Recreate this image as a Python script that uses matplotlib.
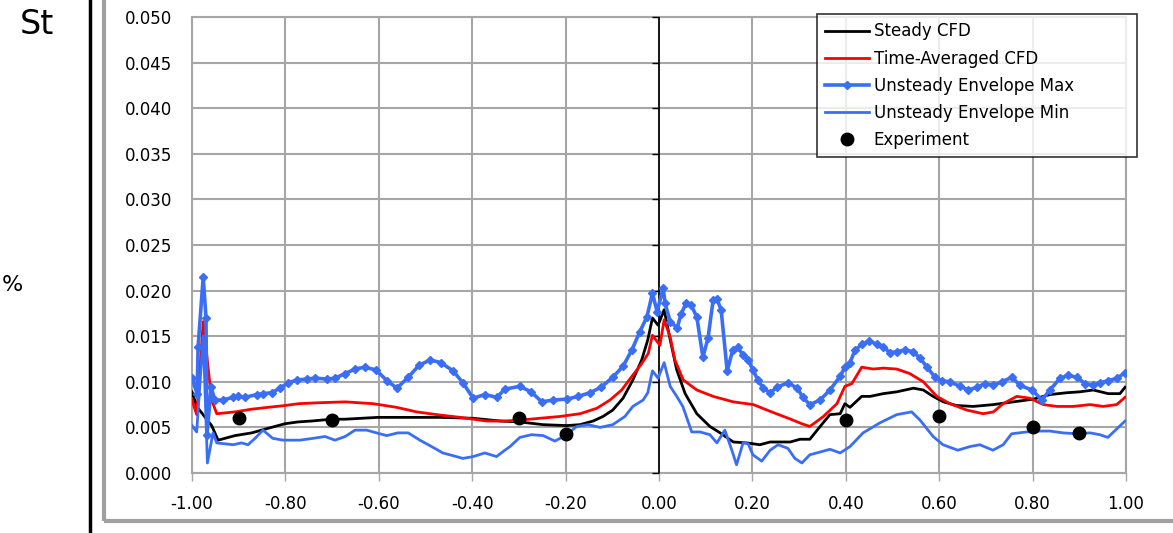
import matplotlib
matplotlib.use('Agg')
import matplotlib.pyplot as plt
from matplotlib.patches import Rectangle
from matplotlib.lines import Line2D
from matplotlib.markers import TICKLEFT

# ---- data ----
steady_x = [-1.0, -0.99, -0.958, -0.944, -0.908, -0.872, -0.837, -0.801, -0.773, -0.744, -0.701, -0.672,
            -0.602, -0.540, -0.469, -0.398, -0.340, -0.298, -0.248, -0.198, -0.169, -0.141, -0.120, -0.099,
            -0.077, -0.056, -0.037, -0.024, -0.014, -0.002, 0.011, 0.024, 0.038, 0.056, 0.081, 0.109,
            0.131, 0.159, 0.188, 0.216, 0.238, 0.259, 0.281, 0.302, 0.323, 0.345, 0.366, 0.388, 0.398,
            0.409, 0.434, 0.452, 0.480, 0.509, 0.545, 0.566, 0.587, 0.609, 0.637, 0.673, 0.716, 0.759,
            0.802, 0.837, 0.873, 0.901, 0.930, 0.962, 0.987, 0.998]
steady_y = [0.0089, 0.0073, 0.0052, 0.0036, 0.0041, 0.0044, 0.0049, 0.0054, 0.0056, 0.0057, 0.0059, 0.0059,
            0.0061, 0.0061, 0.0061, 0.0060, 0.0057, 0.0056, 0.0053, 0.0052, 0.0053, 0.0057, 0.0062, 0.0069,
            0.0082, 0.0102, 0.0124, 0.0146, 0.0170, 0.0162, 0.0179, 0.0146, 0.0113, 0.0087, 0.0065, 0.0051,
            0.0044, 0.0034, 0.0033, 0.0031, 0.0034, 0.0034, 0.0034, 0.0037, 0.0037, 0.0051, 0.0064, 0.0065, 0.0076,
            0.0072, 0.0084, 0.0084, 0.0087, 0.0089, 0.0093, 0.0091, 0.0084, 0.0078, 0.0074, 0.0073, 0.0075, 0.0078,
            0.0081, 0.0086, 0.0088, 0.0089, 0.0091, 0.0087, 0.0087, 0.0094]

avg_x = [-1.0, -0.99, -0.976, -0.958, -0.947, -0.908, -0.872, -0.837, -0.801, -0.772, -0.730, -0.672,
         -0.612, -0.562, -0.519, -0.476, -0.426, -0.369, -0.330, -0.298, -0.255, -0.212, -0.169, -0.133,
         -0.105, -0.080, -0.058, -0.037, -0.023, -0.014, 0.002, 0.011, 0.024, 0.034, 0.052, 0.081,
         0.116, 0.159, 0.202, 0.241, 0.277, 0.306, 0.323, 0.352, 0.381, 0.398, 0.413, 0.434, 0.459,
         0.480, 0.509, 0.537, 0.566, 0.595, 0.623, 0.659, 0.694, 0.716, 0.737, 0.766, 0.794, 0.823,
         0.852, 0.887, 0.923, 0.951, 0.980, 0.998]
avg_y = [0.0080, 0.0064, 0.0166, 0.0080, 0.0065, 0.0067, 0.0070, 0.0072, 0.0074, 0.0076, 0.0077, 0.0078,
         0.0076, 0.0072, 0.0067, 0.0064, 0.0061, 0.0057, 0.0057, 0.0058, 0.0060, 0.0062, 0.0065, 0.0071,
         0.0080, 0.0091, 0.0106, 0.0120, 0.0131, 0.0151, 0.0140, 0.0168, 0.0149, 0.0124, 0.0102, 0.0091,
         0.0084, 0.0078, 0.0075, 0.0067, 0.0060, 0.0054, 0.0051, 0.0062, 0.0076, 0.0095, 0.0098, 0.0116, 0.0114,
         0.0115, 0.0114, 0.0109, 0.0100, 0.0084, 0.0076, 0.0069, 0.0065, 0.0067, 0.0076, 0.0084, 0.0082, 0.0075,
         0.0073, 0.0073, 0.0075, 0.0073, 0.0075, 0.0083]

max_x = [-1.0, -0.989, -0.987, -0.976, -0.970, -0.968, -0.959, -0.951, -0.934, -0.912, -0.902, -0.887,
         -0.861, -0.848, -0.829, -0.812, -0.794, -0.775, -0.754, -0.737, -0.711, -0.694, -0.672, -0.651,
         -0.630, -0.606, -0.582, -0.561, -0.537, -0.514, -0.490, -0.467, -0.441, -0.420, -0.398, -0.373,
         -0.347, -0.330, -0.298, -0.274, -0.251, -0.227, -0.197, -0.173, -0.148, -0.124, -0.099, -0.077,
         -0.058, -0.041, -0.026, -0.014, -0.004, 0.009, 0.013, 0.024, 0.039, 0.047, 0.058, 0.069,
         0.081, 0.094, 0.105, 0.116, 0.124, 0.133, 0.146, 0.158, 0.169, 0.180, 0.191, 0.201,
         0.212, 0.223, 0.238, 0.253, 0.276, 0.296, 0.308, 0.323, 0.345, 0.366, 0.388, 0.398,
         0.409, 0.420, 0.435, 0.450, 0.467, 0.480, 0.495, 0.510, 0.527, 0.544, 0.559, 0.574,
         0.591, 0.606, 0.623, 0.645, 0.662, 0.681, 0.698, 0.715, 0.734, 0.756, 0.773, 0.799,
         0.820, 0.837, 0.859, 0.876, 0.895, 0.912, 0.929, 0.944, 0.961, 0.981, 0.998]
max_y = [0.0104, 0.0087, 0.0138, 0.0215, 0.0170, 0.0042, 0.0094, 0.0080, 0.0080, 0.0083, 0.0084, 0.0083,
         0.0086, 0.0087, 0.0088, 0.0093, 0.0099, 0.0102, 0.0103, 0.0104, 0.0103, 0.0104, 0.0109, 0.0114,
         0.0116, 0.0113, 0.0101, 0.0093, 0.0105, 0.0118, 0.0124, 0.0121, 0.0112, 0.0099, 0.0082, 0.0086,
         0.0083, 0.0092, 0.0095, 0.0089, 0.0078, 0.0080, 0.0081, 0.0084, 0.0088, 0.0094, 0.0105, 0.0117,
         0.0135, 0.0155, 0.0171, 0.0197, 0.0177, 0.0203, 0.0186, 0.0166, 0.0159, 0.0174, 0.0186, 0.0184,
         0.0171, 0.0127, 0.0148, 0.0190, 0.0191, 0.0179, 0.0112, 0.0135, 0.0138, 0.0129, 0.0124, 0.0113,
         0.0102, 0.0093, 0.0088, 0.0094, 0.0099, 0.0093, 0.0083, 0.0075, 0.0080, 0.0091, 0.0106, 0.0116,
         0.0121, 0.0135, 0.0141, 0.0145, 0.0141, 0.0138, 0.0132, 0.0133, 0.0135, 0.0133, 0.0126, 0.0116,
         0.0105, 0.0101, 0.0100, 0.0095, 0.0091, 0.0094, 0.0098, 0.0096, 0.0100, 0.0105, 0.0096, 0.0091,
         0.0080, 0.0091, 0.0104, 0.0107, 0.0105, 0.0098, 0.0096, 0.0099, 0.0101, 0.0104, 0.0110]

min_x = [-1.0, -0.99, -0.976, -0.967, -0.955, -0.947, -0.912, -0.894, -0.880, -0.865, -0.848, -0.827,
         -0.805, -0.769, -0.741, -0.715, -0.694, -0.672, -0.651, -0.626, -0.605, -0.583, -0.559, -0.537,
         -0.512, -0.487, -0.463, -0.441, -0.420, -0.398, -0.373, -0.348, -0.330, -0.319, -0.298, -0.273,
         -0.248, -0.223, -0.201, -0.176, -0.152, -0.126, -0.099, -0.073, -0.056, -0.034, -0.024, -0.014,
         -0.002, 0.011, 0.024, 0.038, 0.051, 0.070, 0.088, 0.109, 0.124, 0.141, 0.156, 0.166,
         0.180, 0.191, 0.201, 0.220, 0.238, 0.255, 0.276, 0.291, 0.306, 0.323, 0.345, 0.366,
         0.388, 0.409, 0.437, 0.473, 0.509, 0.541, 0.559, 0.587, 0.608, 0.640, 0.666, 0.687,
         0.715, 0.737, 0.755, 0.787, 0.816, 0.837, 0.865, 0.894, 0.923, 0.944, 0.961, 0.998]
min_y = [0.0052, 0.0045, 0.0150, 0.0011, 0.0044, 0.0033, 0.0031, 0.0033, 0.0031, 0.0038, 0.0047, 0.0038,
         0.0036, 0.0036, 0.0038, 0.0040, 0.0036, 0.0040, 0.0047, 0.0047, 0.0044, 0.0041, 0.0044, 0.0044,
         0.0036, 0.0029, 0.0022, 0.0019, 0.0016, 0.0018, 0.0022, 0.0018, 0.0025, 0.0029, 0.0039, 0.0042,
         0.0041, 0.0035, 0.0041, 0.0051, 0.0053, 0.0050, 0.0053, 0.0062, 0.0073, 0.0080, 0.0088, 0.0112,
         0.0104, 0.0121, 0.0095, 0.0084, 0.0073, 0.0045, 0.0045, 0.0042, 0.0033, 0.0047, 0.0025, 0.0009,
         0.0033, 0.0032, 0.0020, 0.0013, 0.0025, 0.0031, 0.0027, 0.0016, 0.0011, 0.0020, 0.0023, 0.0026,
         0.0022, 0.0029, 0.0044, 0.0055, 0.0064, 0.0067, 0.0058, 0.0040, 0.0031, 0.0025, 0.0029, 0.0031,
         0.0025, 0.0031, 0.0043, 0.0045, 0.0046, 0.0046, 0.0044, 0.0043, 0.0044, 0.0042, 0.0039, 0.0057]

exp_x = [-0.9, -0.7, -0.3, -0.2, 0.4, 0.6, 0.8, 0.9]
exp_y = [0.0060, 0.0058, 0.0060, 0.0043, 0.0058, 0.0062, 0.0050, 0.0044]

xticks = [-1.0, -0.8, -0.6, -0.4, -0.2, 0.0, 0.2, 0.4, 0.6, 0.8, 1.0]
yticks = [0.000, 0.005, 0.010, 0.015, 0.020, 0.025, 0.030, 0.035, 0.040, 0.045, 0.050]

blue = '#3a6ff5'
grid_c = '#a6a6a6'

plt.rcParams['font.family'] = ['DejaVu Sans']

fig = plt.figure(figsize=(11.73, 5.33), dpi=100)
ax = fig.add_axes([192/1173, 1-473/533, (1126-192)/1173, (473-17)/533])

ax.plot(steady_x, steady_y, color='black', lw=2, label='Steady CFD', zorder=4)
ax.plot(avg_x, avg_y, color='#ff0000', lw=2, label='Time-Averaged CFD', zorder=4)
ax.plot(max_x, max_y, color=blue, lw=2.6, marker='D', ms=4, label='Unsteady Envelope Max', zorder=5)
ax.plot(min_x, min_y, color=blue, lw=2, label='Unsteady Envelope Min', zorder=5)
ax.plot(exp_x, exp_y, ls='none', marker='o', color='black', ms=9, label='Experiment', zorder=6)

ax.set_xlim(-1, 1)
ax.set_ylim(0, 0.05)
ax.set_xticks(xticks)
ax.set_yticks(yticks)
ax.set_xticklabels(['%.2f' % v for v in xticks], fontsize=12)
ax.set_yticklabels(['%.3f' % v for v in yticks], fontsize=12)
ax.grid(True, color=grid_c, lw=1.5)
ax.set_axisbelow(True)
for s in ax.spines.values():
    s.set_color(grid_c)
    s.set_linewidth(1.5)
ax.tick_params(axis='y', length=0, pad=14)
ax.tick_params(axis='x', length=6, width=1, color=grid_c, pad=10, direction='out')

# vertical axis crossing at x = 0, black with small ticks
ax.axvline(0, color='black', lw=1.2, zorder=3)
ax.plot([0] * len(yticks), yticks, ls='none', marker=TICKLEFT, ms=5, mew=1,
        color='black', zorder=3, clip_on=False)

leg = ax.legend(loc='upper left', bbox_to_anchor=(817/1173, 1-14/533, 320/1173, 0.0),
                bbox_transform=fig.transFigure, mode='expand',
                frameon=True, fancybox=False, fontsize=12, handlelength=2.6, handletextpad=0.3,
                labelspacing=0.55, borderpad=0.5, borderaxespad=0)
leg.get_frame().set_edgecolor('black')
leg.get_frame().set_linewidth(1.2)
leg.set_zorder(10)

# surrounding slide bits
fig.add_artist(Rectangle((104/1173, 1-521/533), 1.2, 1.2, transform=fig.transFigure,
                         fill=False, edgecolor='#a0a0a0', lw=3))
fig.add_artist(Line2D([90/1173, 90/1173], [0, 1], transform=fig.transFigure, color='black', lw=2.5))
fig.text(20/1173, 1-34/533, 'St', fontsize=24, va='baseline', ha='left')
fig.text(2/1173, 1-285/533, '%', fontsize=16, va='center', ha='left')

fig.savefig('out.png', dpi=100)
